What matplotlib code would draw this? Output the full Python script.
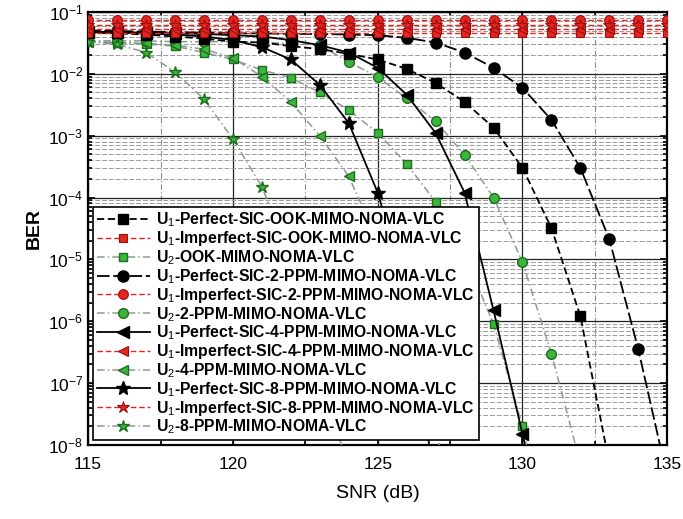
import numpy as np
import matplotlib
matplotlib.use("Agg")
import matplotlib.pyplot as plt
from matplotlib.ticker import LogLocator, MultipleLocator, NullFormatter

plt.rcParams["font.family"] = ["Liberation Sans", "DejaVu Sans"]
plt.rcParams["mathtext.fontset"] = "custom"
plt.rcParams["mathtext.rm"] = "Liberation Sans"
plt.rcParams["mathtext.it"] = "Liberation Sans"
plt.rcParams["mathtext.bf"] = "Liberation Sans:bold"

# ── Data ──────────────────────────────────────────────────────────────────────
snr = list(range(115, 136))

# U1 perfect SIC (black)
ber_ook_perfect = [4.6e-2, 4.5e-2, 4.3e-2, 4.0e-2, 3.7e-2, 3.3e-2, 3.2e-2, 2.8e-2, 2.5e-2,
                   2.1e-2, 1.7e-2, 1.2e-2, 7.1e-3, 3.5e-3, 1.35e-3, 3.0e-4, 3.2e-5,
                   1.2e-6, 5e-9]
ber_2ppm_perfect = [5.0e-2, 4.9e-2, 4.8e-2, 4.7e-2, 4.6e-2, 4.5e-2, 4.5e-2, 4.4e-2, 4.4e-2,
                    4.3e-2, 4.2e-2, 3.8e-2, 3.2e-2, 2.2e-2, 1.25e-2, 5.9e-3, 1.8e-3,
                    3.0e-4, 2.1e-5, 3.5e-7, 3e-9]
ber_4ppm_perfect = [4.8e-2, 4.7e-2, 4.6e-2, 4.5e-2, 4.4e-2, 4.2e-2, 4.0e-2, 3.5e-2, 2.9e-2,
                    2.2e-2, 1.25e-2, 4.6e-3, 1.1e-3, 1.2e-4, 1.5e-6, 1.5e-8, 1e-10]
ber_8ppm_perfect = [4.7e-2, 4.6e-2, 4.5e-2, 4.3e-2, 4.0e-2, 3.5e-2, 2.7e-2, 1.7e-2, 6.6e-3,
                    1.6e-3, 1.2e-4, 3e-6, 2e-9]

# U1 imperfect SIC (red, flat)
ber_ook_imperfect = [4.5e-2] * 21
ber_2ppm_imperfect = [7.4e-2] * 21
ber_4ppm_imperfect = [5.3e-2] * 21
ber_8ppm_imperfect = [6.2e-2] * 21

# U2 (green)
ber_ook_u2 = [3.3e-2, 3.2e-2, 3.0e-2, 2.8e-2, 2.2e-2, 1.7e-2, 1.15e-2, 8.6e-3, 5.0e-3,
              2.6e-3, 1.1e-3, 3.5e-4, 8.5e-5, 1.2e-5, 9e-7, 2e-8, 1e-10]
ber_2ppm_u2 = [3.4e-2, 3.4e-2, 3.4e-2, 3.3e-2, 3.3e-2, 3.3e-2, 3.2e-2, 3.1e-2, 2.9e-2,
               1.55e-2, 8.9e-3, 4.0e-3, 1.7e-3, 4.9e-4, 1.0e-4, 9e-6, 3e-7, 5e-9]
ber_4ppm_u2 = [3.3e-2, 3.2e-2, 3.1e-2, 2.9e-2, 2.5e-2, 1.8e-2, 9.0e-3, 3.5e-3, 1.0e-3,
               2.2e-4, 2e-5, 1e-6, 2e-8, 1e-10]
ber_8ppm_u2 = [3.3e-2, 3.0e-2, 2.2e-2, 1.07e-2, 3.9e-3, 8.8e-4, 1.5e-4, 1e-5, 3e-7, 3e-9]

labels = [
    "U$_1$-Perfect-SIC-OOK-MIMO-NOMA-VLC",
    "U$_1$-Imperfect-SIC-OOK-MIMO-NOMA-VLC",
    "U$_2$-OOK-MIMO-NOMA-VLC",
    "U$_1$-Perfect-SIC-2-PPM-MIMO-NOMA-VLC",
    "U$_1$-Imperfect-SIC-2-PPM-MIMO-NOMA-VLC",
    "U$_2$-2-PPM-MIMO-NOMA-VLC",
    "U$_1$-Perfect-SIC-4-PPM-MIMO-NOMA-VLC",
    "U$_1$-Imperfect-SIC-4-PPM-MIMO-NOMA-VLC",
    "U$_2$-4-PPM-MIMO-NOMA-VLC",
    "U$_1$-Perfect-SIC-8-PPM-MIMO-NOMA-VLC",
    "U$_1$-Imperfect-SIC-8-PPM-MIMO-NOMA-VLC",
    "U$_2$-8-PPM-MIMO-NOMA-VLC",
]

series = [ber_ook_perfect, ber_ook_imperfect, ber_ook_u2,
          ber_2ppm_perfect, ber_2ppm_imperfect, ber_2ppm_u2,
          ber_4ppm_perfect, ber_4ppm_imperfect, ber_4ppm_u2,
          ber_8ppm_perfect, ber_8ppm_imperfect, ber_8ppm_u2]

# ── Styles ────────────────────────────────────────────────────────────────────
RED, RED_E = "#e3261f", "#9e0e0e"
GRN, GRN_E = "#3db53d", "#1b6e1b"
markers = ["s", "s", "s", "o", "o", "o", "<", "<", "<", "*", "*", "*"]
kinds = ["k", "r", "g"] * 4
sizes = {"s": 7, "o": 8, "<": 8, "*": 10}
black_ls = {"s": (0, (4, 2)), "o": (0, (7, 2)), "<": "-", "*": "-"}

# ── Plot ──────────────────────────────────────────────────────────────────────
fig = plt.figure(figsize=(6.83, 5.19), dpi=100)
ax = fig.add_axes([0.129, 0.1426, 0.848, 0.8345])

for vals, lab, m, kind in zip(series, labels, markers, kinds):
    x = snr[:len(vals)]
    ms = sizes[m]
    if kind == "k":
        ax.plot(x, vals, color="black", ls=black_ls[m], lw=1.3, marker=m, ms=ms,
                mfc="black", mec="black", label=lab, zorder=4)
    elif kind == "r":
        ax.plot(x, vals, color=RED, ls=(0, (4, 2)), lw=1.0, marker=m, ms=ms - 1,
                mfc=RED, mec=RED_E, mew=0.8, label=lab, zorder=5)
    else:
        ax.plot(x, vals, color="#8c9c8c", ls=(0, (5, 2, 1, 2)), lw=1.1, marker=m,
                ms=ms - 1, mfc=GRN, mec=GRN_E, mew=1.0, label=lab, zorder=3)

ax.set_yscale("log")
ax.set_xlim(115, 135)
ax.set_ylim(1e-8, 1e-1)
ax.xaxis.set_major_locator(MultipleLocator(5))
ax.xaxis.set_minor_locator(MultipleLocator(2.5))
ax.yaxis.set_major_locator(LogLocator(base=10, numticks=12))
ax.yaxis.set_minor_locator(LogLocator(base=10, subs=np.arange(2, 10), numticks=12))
ax.yaxis.set_minor_formatter(NullFormatter())

ax.grid(which="major", axis="both", color="#222222", lw=0.9, ls="-")
ax.grid(which="minor", axis="y", color="#9a9a9a", lw=0.7, ls=(0, (5, 2)))
ax.grid(which="minor", axis="x", color="#8a8a8a", lw=0.8, ls=(0, (5, 2, 1, 2)))
ax.set_axisbelow(True)

ax.tick_params(which="both", direction="in", top=True, right=True, width=1.2)
ax.tick_params(which="major", length=5, labelsize=12.5)
ax.tick_params(which="minor", length=3)
ax.tick_params(axis="x", which="major", pad=9)
for sp in ax.spines.values():
    sp.set_linewidth(1.6)

ax.set_xlabel("SNR (dB)", fontsize=14, labelpad=9)
ax.set_ylabel("BER", fontsize=14, fontweight="bold", labelpad=4)

leg = ax.legend(loc="lower left", frameon=True, fancybox=False,
                prop={"size": 11.3, "weight": "bold"},
                edgecolor="black", framealpha=1, borderpad=0.25, labelspacing=0.0,
                handlelength=3.4, handletextpad=0.4, borderaxespad=0.3)
leg.get_frame().set_linewidth(1.2)

plt.savefig("out.png", dpi=100)
